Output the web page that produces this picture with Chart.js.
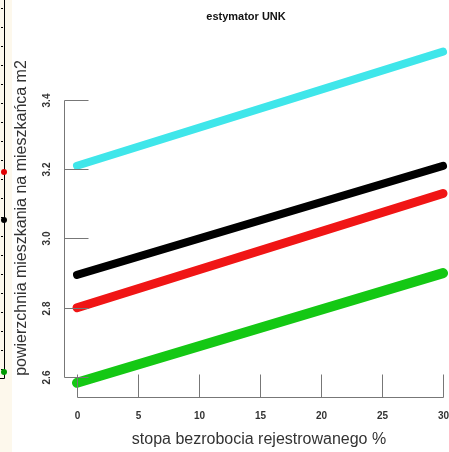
<!DOCTYPE html>
<html>
<head>
<meta charset="utf-8">
<script src="https://cdn.jsdelivr.net/npm/chart.js@4"></script>
<style>
  html, body { margin: 0; padding: 0; background: #fff; }
  #wrap { width: 449px; height: 452px; }
</style>
</head>
<body>
<div id="wrap"><canvas id="chart" width="449" height="452"></canvas></div>
<script>
// stopa bezrobocia (x) i estymowane wartości dla czterech linii
const xValues = [0, 30];
const cyanLine = [3.21, 3.54];
const blackLine = [2.895, 3.21];
const redLine = [2.80, 3.13];
const greenLine = [2.583, 2.90];
const xTicks = [0, 5, 10, 15, 20, 25, 30];
const yTicks = [2.6, 2.8, 3.0, 3.2, 3.4];

function punkty(vals) {
  return xValues.map((x, i) => ({ x: x, y: vals[i] }));
}

// osie w stylu R rysowane recznie
const osieR = {
  id: 'osieR',
  beforeDraw(chart) {
    const ctx = chart.ctx;
    ctx.save();
    ctx.fillStyle = '#fdf8ec';
    ctx.fillRect(0, 0, 12, 452);
    // fragment sasiedniego wykresu
    ctx.strokeStyle = '#000';
    ctx.lineWidth = 1;
    ctx.beginPath();
    ctx.moveTo(4.5, 0);
    ctx.lineTo(4.5, 378.5);
    ctx.lineTo(0, 378.5);
    ctx.stroke();
    for (let y = 8; y < 378; y += 19) {
      ctx.beginPath();
      ctx.moveTo(1, y + 0.5);
      ctx.lineTo(3, y + 0.5);
      ctx.stroke();
    }
    [['#e00000', 172], ['#000', 220], ['#009a00', 372]].forEach(d => {
      ctx.fillStyle = d[0];
      ctx.beginPath();
      ctx.arc(4, d[1], 3, 0, Math.PI * 2);
      ctx.fill();
    });
    ctx.restore();
  },
  afterDraw(chart) {
    const ctx = chart.ctx;
    const xs = chart.scales.x;
    const ys = chart.scales.y;
    ctx.save();
    ctx.strokeStyle = '#777';
    ctx.lineWidth = 1;
    ctx.fillStyle = '#333';

    // os Y
    const yTop = ys.getPixelForValue(3.4);
    const yBot = ys.getPixelForValue(2.6);
    const xAxisY = Math.round(ys.getPixelForValue(2.6) + 20) + 0.5;
    const yAxisX = Math.round(xs.getPixelForValue(0) - 13) + 0.5;
    ctx.beginPath();
    ctx.moveTo(yAxisX, Math.round(yTop) + 0.5);
    ctx.lineTo(yAxisX, Math.round(yBot) + 0.5);
    ctx.stroke();
    ctx.font = 'bold 10px "Liberation Sans", Arial, sans-serif';
    ctx.textAlign = 'center';
    ctx.textBaseline = 'middle';
    yTicks.forEach(v => {
      const py = Math.round(ys.getPixelForValue(v)) + 0.5;
      ctx.beginPath();
      ctx.moveTo(yAxisX, py);
      ctx.lineTo(yAxisX + 24, py);
      ctx.stroke();
      ctx.save();
      ctx.translate(47, py);
      ctx.rotate(-Math.PI / 2);
      ctx.fillText(v.toFixed(1), 0, 0);
      ctx.restore();
    });

    // os X
    const x0 = Math.round(xs.getPixelForValue(0)) + 0.5;
    const x1 = Math.round(xs.getPixelForValue(30)) + 0.5;
    ctx.beginPath();
    ctx.moveTo(x0, xAxisY);
    ctx.lineTo(x1, xAxisY);
    ctx.stroke();
    xTicks.forEach(v => {
      const px = Math.round(xs.getPixelForValue(v)) + 0.5;
      ctx.beginPath();
      ctx.moveTo(px, xAxisY);
      ctx.lineTo(px, xAxisY - 23);
      ctx.stroke();
      ctx.fillText(String(v), px, 416);
    });

    // tytuly
    ctx.font = '16px "Liberation Sans", Arial, sans-serif';
    ctx.fillText('stopa bezrobocia rejestrowanego %', 259, 440);
    ctx.save();
    ctx.translate(22, 218);
    ctx.rotate(-Math.PI / 2);
    ctx.fillText('powierzchnia mieszkania na mieszkańca m2', 0, 0);
    ctx.restore();
    ctx.fillStyle = '#111';
    ctx.font = 'bold 11px "Liberation Sans", Arial, sans-serif';
    ctx.fillText('estymator UNK', 246, 17);
    ctx.restore();
  }
};

new Chart(document.getElementById('chart'), {
  type: 'line',
  data: {
    datasets: [
      { data: punkty(cyanLine), borderColor: '#3fe6ea', borderWidth: 8 },
      { data: punkty(blackLine), borderColor: '#000000', borderWidth: 8 },
      { data: punkty(redLine), borderColor: '#f01515', borderWidth: 9 },
      { data: punkty(greenLine), borderColor: '#14c814', borderWidth: 10 }
    ]
  },
  options: {
    responsive: false,
    animation: false,
    layout: { padding: { left: 64, right: 0, top: 45, bottom: 55 } },
    elements: {
      point: { radius: 0 },
      line: { borderCapStyle: 'round', tension: 0 }
    },
    plugins: {
      legend: { display: false },
      tooltip: { enabled: false },
      title: { display: false }
    },
    scales: {
      x: { type: 'linear', display: false, min: -1.066, max: 30.49 },
      y: { type: 'linear', display: false, min: 2.542, max: 3.559 }
    }
  },
  plugins: [osieR]
});
</script>
</body>
</html>
